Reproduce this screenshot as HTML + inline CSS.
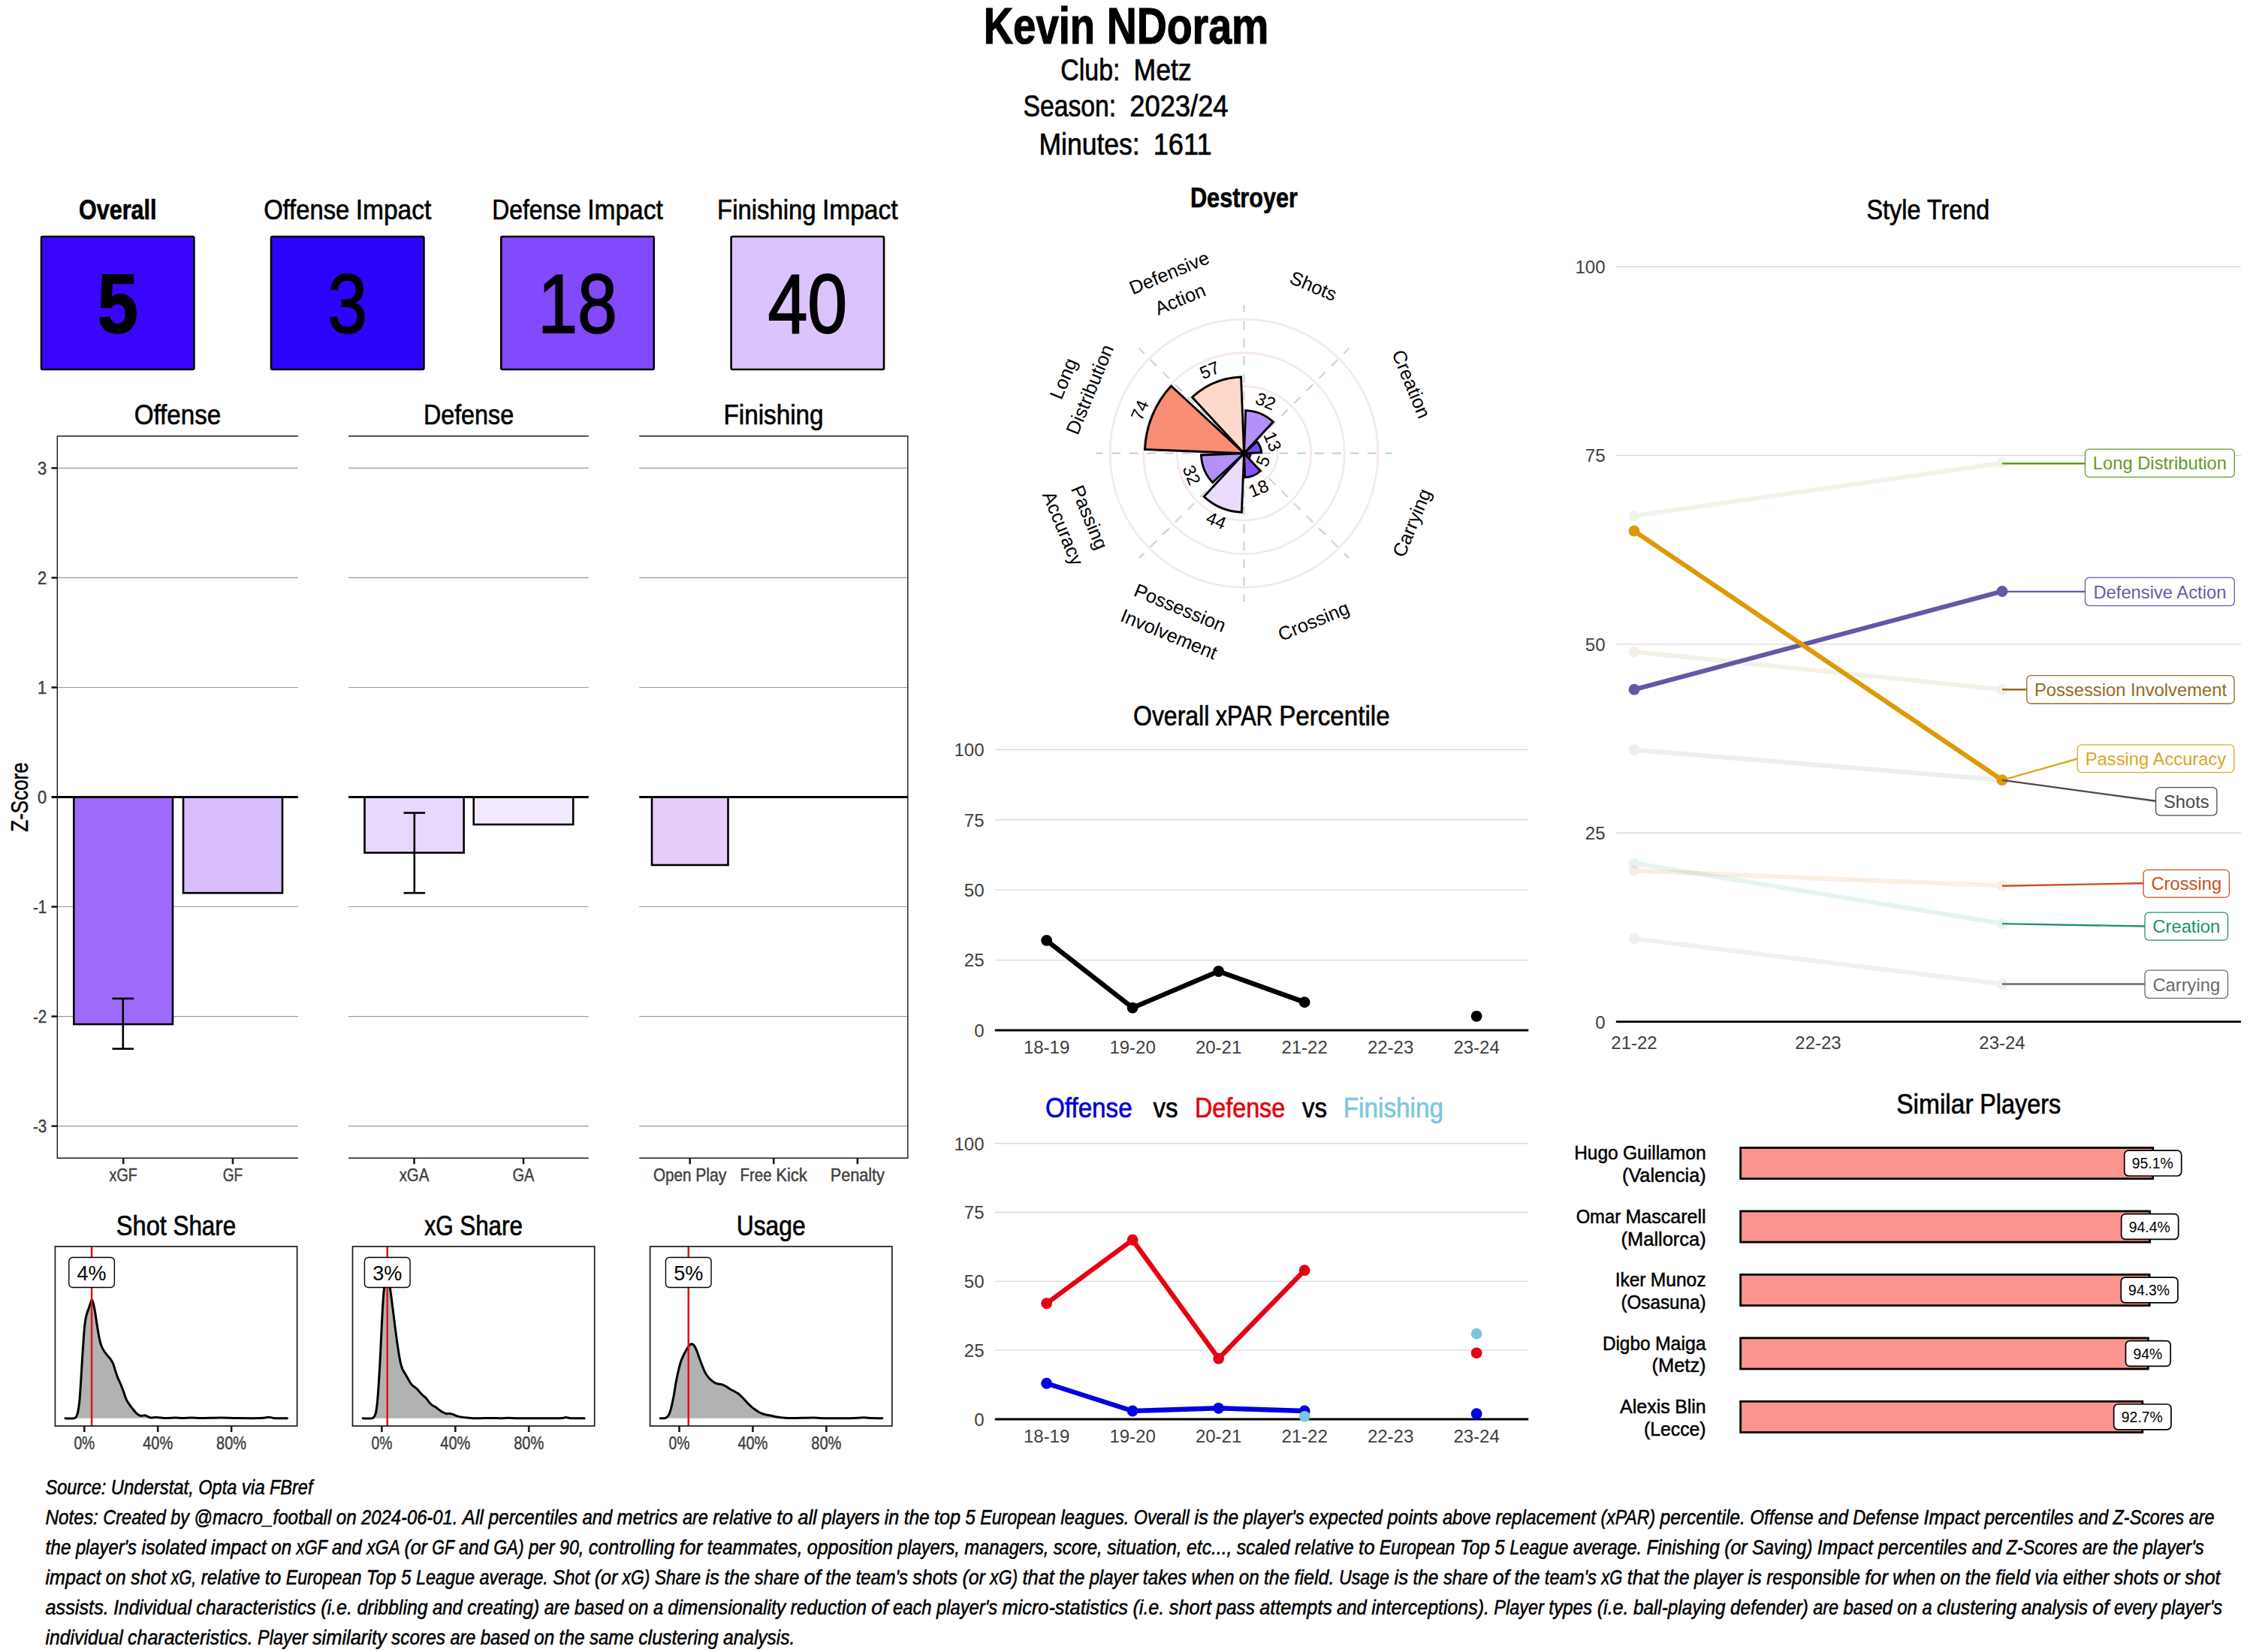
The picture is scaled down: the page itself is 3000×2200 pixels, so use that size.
<!DOCTYPE html>
<html lang="en"><head><meta charset="utf-8"><title>Kevin NDoram</title>
<style>
html,body{margin:0;padding:0;background:#fff}
svg{display:block;font-family:"Liberation Sans", sans-serif}
text{white-space:pre}
</style></head><body>
<svg width="3000" height="2200" viewBox="0 0 3000 2200">
<rect width="3000" height="2200" fill="#fff"/>
<text y="57.80" font-size="67.97" fill="#000" stroke="#000" stroke-width="1.21" font-weight="bold"><tspan x="1309.71" textLength="148.43" lengthAdjust="spacingAndGlyphs">Kevin</tspan> <tspan x="1473.66" textLength="215.63" lengthAdjust="spacingAndGlyphs">NDoram</tspan></text>
<text y="106.50" font-size="39.79" fill="#000" stroke="#000" stroke-width="0.71"><tspan x="1412.34" textLength="79.05" lengthAdjust="spacingAndGlyphs">Club:</tspan> <tspan x="1509.48" textLength="77.18" lengthAdjust="spacingAndGlyphs">Metz</tspan></text>
<text y="154.70" font-size="39.79" fill="#000" stroke="#000" stroke-width="0.71"><tspan x="1362.40" textLength="123.80" lengthAdjust="spacingAndGlyphs">Season:</tspan> <tspan x="1504.28" textLength="131.32" lengthAdjust="spacingAndGlyphs">2023/24</tspan></text>
<text y="205.60" font-size="39.79" fill="#000" stroke="#000" stroke-width="0.71"><tspan x="1383.45" textLength="134.23" lengthAdjust="spacingAndGlyphs">Minutes:</tspan> <tspan x="1535.75" textLength="77.80" lengthAdjust="spacingAndGlyphs">1611</tspan></text>
<text y="291.60" font-size="37.17" fill="#000" stroke="#000" stroke-width="0.66" font-weight="bold"><tspan x="104.89" textLength="103.62" lengthAdjust="spacingAndGlyphs">Overall</tspan></text>
<rect x="55.00" y="315.00" width="203.40" height="177.00" fill="#3A05FB" stroke="#000" stroke-width="2.6" rx="2"/>
<text y="443.00" font-size="110.53" fill="#000" stroke="#000" stroke-width="1.93" font-weight="bold"><tspan x="129.66" textLength="54.07" lengthAdjust="spacingAndGlyphs">5</tspan></text>
<text y="291.60" font-size="37.17" fill="#000" stroke="#000" stroke-width="0.66"><tspan x="351.15" textLength="114.08" lengthAdjust="spacingAndGlyphs">Offense</tspan> <tspan x="473.68" textLength="100.57" lengthAdjust="spacingAndGlyphs">Impact</tspan></text>
<rect x="361.00" y="315.00" width="203.40" height="177.00" fill="#2D04FB" stroke="#000" stroke-width="2.6" rx="2"/>
<text y="443.00" font-size="110.53" fill="#000" stroke="#000" stroke-width="1.93"><tspan x="436.29" textLength="52.82" lengthAdjust="spacingAndGlyphs">3</tspan></text>
<text y="291.60" font-size="37.17" fill="#000" stroke="#000" stroke-width="0.66"><tspan x="655.20" textLength="118.58" lengthAdjust="spacingAndGlyphs">Defense</tspan> <tspan x="782.23" textLength="100.57" lengthAdjust="spacingAndGlyphs">Impact</tspan></text>
<rect x="667.30" y="315.00" width="203.40" height="177.00" fill="#8349FC" stroke="#000" stroke-width="2.6" rx="2"/>
<text y="443.00" font-size="110.53" fill="#000" stroke="#000" stroke-width="1.93"><tspan x="716.18" textLength="105.64" lengthAdjust="spacingAndGlyphs">18</tspan></text>
<text y="291.60" font-size="37.17" fill="#000" stroke="#000" stroke-width="0.66"><tspan x="955.10" textLength="131.39" lengthAdjust="spacingAndGlyphs">Finishing</tspan> <tspan x="1094.93" textLength="100.57" lengthAdjust="spacingAndGlyphs">Impact</tspan></text>
<rect x="973.60" y="315.00" width="203.40" height="177.00" fill="#DBC4FD" stroke="#000" stroke-width="2.6" rx="2"/>
<text y="443.00" font-size="110.53" fill="#000" stroke="#000" stroke-width="1.93"><tspan x="1022.48" textLength="105.64" lengthAdjust="spacingAndGlyphs">40</tspan></text>
<line x1="76.20" y1="1499.65" x2="396.80" y2="1499.65" stroke="#9A9A9A" stroke-width="1.1"/>
<line x1="76.20" y1="1353.60" x2="396.80" y2="1353.60" stroke="#9A9A9A" stroke-width="1.1"/>
<line x1="76.20" y1="1207.55" x2="396.80" y2="1207.55" stroke="#9A9A9A" stroke-width="1.1"/>
<line x1="76.20" y1="915.45" x2="396.80" y2="915.45" stroke="#9A9A9A" stroke-width="1.1"/>
<line x1="76.20" y1="769.40" x2="396.80" y2="769.40" stroke="#9A9A9A" stroke-width="1.1"/>
<line x1="76.20" y1="623.35" x2="396.80" y2="623.35" stroke="#9A9A9A" stroke-width="1.1"/>
<line x1="464.00" y1="1499.65" x2="783.70" y2="1499.65" stroke="#9A9A9A" stroke-width="1.1"/>
<line x1="464.00" y1="1353.60" x2="783.70" y2="1353.60" stroke="#9A9A9A" stroke-width="1.1"/>
<line x1="464.00" y1="1207.55" x2="783.70" y2="1207.55" stroke="#9A9A9A" stroke-width="1.1"/>
<line x1="464.00" y1="915.45" x2="783.70" y2="915.45" stroke="#9A9A9A" stroke-width="1.1"/>
<line x1="464.00" y1="769.40" x2="783.70" y2="769.40" stroke="#9A9A9A" stroke-width="1.1"/>
<line x1="464.00" y1="623.35" x2="783.70" y2="623.35" stroke="#9A9A9A" stroke-width="1.1"/>
<line x1="851.20" y1="1499.65" x2="1208.80" y2="1499.65" stroke="#9A9A9A" stroke-width="1.1"/>
<line x1="851.20" y1="1353.60" x2="1208.80" y2="1353.60" stroke="#9A9A9A" stroke-width="1.1"/>
<line x1="851.20" y1="1207.55" x2="1208.80" y2="1207.55" stroke="#9A9A9A" stroke-width="1.1"/>
<line x1="851.20" y1="915.45" x2="1208.80" y2="915.45" stroke="#9A9A9A" stroke-width="1.1"/>
<line x1="851.20" y1="769.40" x2="1208.80" y2="769.40" stroke="#9A9A9A" stroke-width="1.1"/>
<line x1="851.20" y1="623.35" x2="1208.80" y2="623.35" stroke="#9A9A9A" stroke-width="1.1"/>
<line x1="76.20" y1="580.70" x2="396.80" y2="580.70" stroke="#1a1a1a" stroke-width="1.4"/>
<line x1="76.20" y1="1542.30" x2="396.80" y2="1542.30" stroke="#1a1a1a" stroke-width="1.4"/>
<line x1="464.00" y1="580.70" x2="783.70" y2="580.70" stroke="#1a1a1a" stroke-width="1.4"/>
<line x1="464.00" y1="1542.30" x2="783.70" y2="1542.30" stroke="#1a1a1a" stroke-width="1.4"/>
<line x1="851.20" y1="580.70" x2="1208.80" y2="580.70" stroke="#1a1a1a" stroke-width="1.4"/>
<line x1="851.20" y1="1542.30" x2="1208.80" y2="1542.30" stroke="#1a1a1a" stroke-width="1.4"/>
<line x1="76.30" y1="580.00" x2="76.30" y2="1543.00" stroke="#1a1a1a" stroke-width="1.4"/>
<line x1="1208.80" y1="580.00" x2="1208.80" y2="1543.00" stroke="#1a1a1a" stroke-width="1.4"/>
<line x1="68.50" y1="1499.65" x2="76.20" y2="1499.65" stroke="#1a1a1a" stroke-width="2.6"/>
<text y="1507.85" font-size="23.59" fill="#404040" stroke="#404040" stroke-width="0.44"><tspan x="43.98" textLength="18.32" lengthAdjust="spacingAndGlyphs">-3</tspan></text>
<line x1="68.50" y1="1353.60" x2="76.20" y2="1353.60" stroke="#1a1a1a" stroke-width="2.6"/>
<text y="1361.80" font-size="23.59" fill="#404040" stroke="#404040" stroke-width="0.44"><tspan x="43.98" textLength="18.32" lengthAdjust="spacingAndGlyphs">-2</tspan></text>
<line x1="68.50" y1="1207.55" x2="76.20" y2="1207.55" stroke="#1a1a1a" stroke-width="2.6"/>
<text y="1215.75" font-size="23.59" fill="#404040" stroke="#404040" stroke-width="0.44"><tspan x="43.98" textLength="18.32" lengthAdjust="spacingAndGlyphs">-1</tspan></text>
<line x1="68.50" y1="1061.50" x2="76.20" y2="1061.50" stroke="#1a1a1a" stroke-width="2.6"/>
<text y="1069.70" font-size="23.59" fill="#404040" stroke="#404040" stroke-width="0.44"><tspan x="50.11" textLength="12.19" lengthAdjust="spacingAndGlyphs">0</tspan></text>
<line x1="68.50" y1="915.45" x2="76.20" y2="915.45" stroke="#1a1a1a" stroke-width="2.6"/>
<text y="923.65" font-size="23.59" fill="#404040" stroke="#404040" stroke-width="0.44"><tspan x="50.11" textLength="12.19" lengthAdjust="spacingAndGlyphs">1</tspan></text>
<line x1="68.50" y1="769.40" x2="76.20" y2="769.40" stroke="#1a1a1a" stroke-width="2.6"/>
<text y="777.60" font-size="23.59" fill="#404040" stroke="#404040" stroke-width="0.44"><tspan x="50.11" textLength="12.19" lengthAdjust="spacingAndGlyphs">2</tspan></text>
<line x1="68.50" y1="623.35" x2="76.20" y2="623.35" stroke="#1a1a1a" stroke-width="2.6"/>
<text y="631.55" font-size="23.59" fill="#404040" stroke="#404040" stroke-width="0.44"><tspan x="50.11" textLength="12.19" lengthAdjust="spacingAndGlyphs">3</tspan></text>
<rect x="98.30" y="1061.50" width="131.70" height="302.50" fill="#9E6BFB" stroke="#000" stroke-width="2.6"/>
<rect x="244.00" y="1061.50" width="132.00" height="127.70" fill="#D8BEFC" stroke="#000" stroke-width="2.6"/>
<rect x="485.50" y="1061.50" width="132.10" height="74.10" fill="#E8D8FD" stroke="#000" stroke-width="2.6"/>
<rect x="630.70" y="1061.50" width="132.50" height="36.50" fill="#F2E9FE" stroke="#000" stroke-width="2.6"/>
<rect x="868.00" y="1061.50" width="101.50" height="90.50" fill="#E6CDFC" stroke="#000" stroke-width="2.6"/>
<line x1="978.50" y1="1061.50" x2="1080.60" y2="1061.50" stroke="#000" stroke-width="3"/>
<line x1="1090.30" y1="1061.50" x2="1192.30" y2="1061.50" stroke="#000" stroke-width="3"/>
<line x1="76.20" y1="1061.50" x2="396.80" y2="1061.50" stroke="#000" stroke-width="3"/>
<line x1="464.00" y1="1061.50" x2="783.70" y2="1061.50" stroke="#000" stroke-width="3"/>
<line x1="851.20" y1="1061.50" x2="1208.80" y2="1061.50" stroke="#000" stroke-width="3"/>
<line x1="69.00" y1="1061.50" x2="77.00" y2="1061.50" stroke="#000" stroke-width="3"/>
<line x1="163.80" y1="1329.80" x2="163.80" y2="1396.70" stroke="#000" stroke-width="2.6"/>
<line x1="149.50" y1="1329.80" x2="178.10" y2="1329.80" stroke="#000" stroke-width="2.6"/>
<line x1="149.50" y1="1396.70" x2="178.10" y2="1396.70" stroke="#000" stroke-width="2.6"/>
<line x1="551.80" y1="1082.50" x2="551.80" y2="1189.20" stroke="#000" stroke-width="2.6"/>
<line x1="537.50" y1="1082.50" x2="566.10" y2="1082.50" stroke="#000" stroke-width="2.6"/>
<line x1="537.50" y1="1189.20" x2="566.10" y2="1189.20" stroke="#000" stroke-width="2.6"/>
<line x1="164.20" y1="1542.30" x2="164.20" y2="1550.30" stroke="#1a1a1a" stroke-width="2.6"/>
<text y="1573.30" font-size="23.59" fill="#404040" stroke="#404040" stroke-width="0.44"><tspan x="145.54" textLength="37.32" lengthAdjust="spacingAndGlyphs">xGF</tspan></text>
<line x1="310.00" y1="1542.30" x2="310.00" y2="1550.30" stroke="#1a1a1a" stroke-width="2.6"/>
<text y="1573.30" font-size="23.59" fill="#404040" stroke="#404040" stroke-width="0.44"><tspan x="296.76" textLength="26.47" lengthAdjust="spacingAndGlyphs">GF</tspan></text>
<line x1="551.50" y1="1542.30" x2="551.50" y2="1550.30" stroke="#1a1a1a" stroke-width="2.6"/>
<text y="1573.30" font-size="23.59" fill="#404040" stroke="#404040" stroke-width="0.44"><tspan x="531.66" textLength="39.68" lengthAdjust="spacingAndGlyphs">xGA</tspan></text>
<line x1="697.00" y1="1542.30" x2="697.00" y2="1550.30" stroke="#1a1a1a" stroke-width="2.6"/>
<text y="1573.30" font-size="23.59" fill="#404040" stroke="#404040" stroke-width="0.44"><tspan x="682.58" textLength="28.84" lengthAdjust="spacingAndGlyphs">GA</tspan></text>
<line x1="918.70" y1="1542.30" x2="918.70" y2="1550.30" stroke="#1a1a1a" stroke-width="2.6"/>
<text y="1573.30" font-size="23.59" fill="#404040" stroke="#404040" stroke-width="0.44"><tspan x="869.93" textLength="50.57" lengthAdjust="spacingAndGlyphs">Open</tspan> <tspan x="926.17" textLength="41.30" lengthAdjust="spacingAndGlyphs">Play</tspan></text>
<line x1="1030.20" y1="1542.30" x2="1030.20" y2="1550.30" stroke="#1a1a1a" stroke-width="2.6"/>
<text y="1573.30" font-size="23.59" fill="#404040" stroke="#404040" stroke-width="0.44"><tspan x="985.52" textLength="42.02" lengthAdjust="spacingAndGlyphs">Free</tspan> <tspan x="1033.20" textLength="41.68" lengthAdjust="spacingAndGlyphs">Kick</tspan></text>
<line x1="1141.80" y1="1542.30" x2="1141.80" y2="1550.30" stroke="#1a1a1a" stroke-width="2.6"/>
<text y="1573.30" font-size="23.59" fill="#404040" stroke="#404040" stroke-width="0.44"><tspan x="1105.71" textLength="72.17" lengthAdjust="spacingAndGlyphs">Penalty</tspan></text>
<text y="565.00" font-size="37.67" fill="#000" stroke="#000" stroke-width="0.67"><tspan x="178.68" textLength="115.63" lengthAdjust="spacingAndGlyphs">Offense</tspan></text>
<text y="565.00" font-size="37.67" fill="#000" stroke="#000" stroke-width="0.67"><tspan x="563.91" textLength="120.19" lengthAdjust="spacingAndGlyphs">Defense</tspan></text>
<text y="565.00" font-size="37.67" fill="#000" stroke="#000" stroke-width="0.67"><tspan x="963.41" textLength="133.17" lengthAdjust="spacingAndGlyphs">Finishing</tspan></text>
<text y="1061.50" font-size="30.60" fill="#000" stroke="#000" stroke-width="0.55" transform="rotate(-90.00 37.20 1061.50)"><tspan x="-8.97" textLength="92.34" lengthAdjust="spacingAndGlyphs">Z-Score</tspan></text>
<text y="1644.60" font-size="37.67" fill="#000" stroke="#000" stroke-width="0.67"><tspan x="154.80" textLength="67.11" lengthAdjust="spacingAndGlyphs">Shot</tspan> <tspan x="230.47" textLength="83.72" lengthAdjust="spacingAndGlyphs">Share</tspan></text>
<path d="M86.99,1888.87C88.88,1888.87 95.91,1889.21 98.32,1888.87C100.74,1888.53 100.55,1888.34 101.47,1886.82C102.39,1885.30 103.10,1883.28 103.83,1879.74C104.57,1876.20 105.22,1872.40 105.88,1865.58C106.53,1858.76 107.14,1848.53 107.77,1838.83C108.39,1829.12 109.08,1816.54 109.65,1807.36C110.23,1798.18 110.70,1790.83 111.23,1783.75C111.75,1776.67 112.20,1770.12 112.80,1764.87C113.40,1759.62 113.98,1755.95 114.85,1752.28C115.71,1748.61 117.08,1745.59 117.99,1742.84C118.91,1740.09 119.65,1737.73 120.35,1735.76C121.06,1733.79 121.59,1731.04 122.24,1731.04C122.90,1731.04 123.55,1733.01 124.29,1735.76C125.02,1738.51 125.86,1742.97 126.65,1747.56C127.44,1752.15 128.22,1758.31 129.01,1763.30C129.80,1768.28 130.58,1773.26 131.37,1777.46C132.16,1781.65 132.81,1785.33 133.73,1788.47C134.65,1791.62 135.57,1793.85 136.88,1796.34C138.19,1798.83 140.02,1801.32 141.60,1803.42C143.17,1805.52 144.88,1806.96 146.32,1808.93C147.76,1810.90 149.07,1812.60 150.25,1815.22C151.43,1817.85 152.35,1821.52 153.40,1824.67C154.45,1827.81 155.37,1831.09 156.55,1834.11C157.73,1837.12 159.17,1839.61 160.48,1842.76C161.79,1845.91 163.10,1849.45 164.41,1852.99C165.73,1856.53 167.04,1861.12 168.35,1864.00C169.66,1866.89 170.84,1868.20 172.28,1870.30C173.72,1872.40 175.43,1874.63 177.00,1876.59C178.58,1878.56 180.28,1880.71 181.72,1882.10C183.17,1883.49 184.48,1884.38 185.66,1884.93C186.84,1885.48 187.62,1885.43 188.80,1885.41C189.98,1885.38 191.56,1884.67 192.74,1884.78C193.92,1884.88 194.57,1885.51 195.89,1886.03C197.20,1886.56 198.51,1887.69 200.61,1887.92C202.70,1888.16 205.06,1887.35 208.47,1887.45C211.88,1887.56 216.87,1888.47 221.06,1888.55C225.26,1888.63 229.98,1887.92 233.65,1887.92C237.32,1887.92 239.42,1888.55 243.09,1888.55C246.76,1888.55 251.48,1887.92 255.68,1887.92C259.88,1887.92 261.97,1888.53 268.27,1888.55C274.56,1888.58 285.58,1888.08 293.45,1888.08C301.31,1888.08 306.56,1888.47 315.48,1888.55C324.39,1888.63 339.87,1888.76 346.95,1888.55C354.03,1888.34 354.82,1887.27 357.96,1887.29C361.11,1887.32 361.77,1888.47 365.83,1888.71C369.90,1888.95 379.60,1888.71 382.35,1888.71L382.35,1888.87L86.99,1888.87Z" fill="#B2B2B2"/>
<path d="M86.99,1888.87C88.88,1888.87 95.91,1889.21 98.32,1888.87C100.74,1888.53 100.55,1888.34 101.47,1886.82C102.39,1885.30 103.10,1883.28 103.83,1879.74C104.57,1876.20 105.22,1872.40 105.88,1865.58C106.53,1858.76 107.14,1848.53 107.77,1838.83C108.39,1829.12 109.08,1816.54 109.65,1807.36C110.23,1798.18 110.70,1790.83 111.23,1783.75C111.75,1776.67 112.20,1770.12 112.80,1764.87C113.40,1759.62 113.98,1755.95 114.85,1752.28C115.71,1748.61 117.08,1745.59 117.99,1742.84C118.91,1740.09 119.65,1737.73 120.35,1735.76C121.06,1733.79 121.59,1731.04 122.24,1731.04C122.90,1731.04 123.55,1733.01 124.29,1735.76C125.02,1738.51 125.86,1742.97 126.65,1747.56C127.44,1752.15 128.22,1758.31 129.01,1763.30C129.80,1768.28 130.58,1773.26 131.37,1777.46C132.16,1781.65 132.81,1785.33 133.73,1788.47C134.65,1791.62 135.57,1793.85 136.88,1796.34C138.19,1798.83 140.02,1801.32 141.60,1803.42C143.17,1805.52 144.88,1806.96 146.32,1808.93C147.76,1810.90 149.07,1812.60 150.25,1815.22C151.43,1817.85 152.35,1821.52 153.40,1824.67C154.45,1827.81 155.37,1831.09 156.55,1834.11C157.73,1837.12 159.17,1839.61 160.48,1842.76C161.79,1845.91 163.10,1849.45 164.41,1852.99C165.73,1856.53 167.04,1861.12 168.35,1864.00C169.66,1866.89 170.84,1868.20 172.28,1870.30C173.72,1872.40 175.43,1874.63 177.00,1876.59C178.58,1878.56 180.28,1880.71 181.72,1882.10C183.17,1883.49 184.48,1884.38 185.66,1884.93C186.84,1885.48 187.62,1885.43 188.80,1885.41C189.98,1885.38 191.56,1884.67 192.74,1884.78C193.92,1884.88 194.57,1885.51 195.89,1886.03C197.20,1886.56 198.51,1887.69 200.61,1887.92C202.70,1888.16 205.06,1887.35 208.47,1887.45C211.88,1887.56 216.87,1888.47 221.06,1888.55C225.26,1888.63 229.98,1887.92 233.65,1887.92C237.32,1887.92 239.42,1888.55 243.09,1888.55C246.76,1888.55 251.48,1887.92 255.68,1887.92C259.88,1887.92 261.97,1888.53 268.27,1888.55C274.56,1888.58 285.58,1888.08 293.45,1888.08C301.31,1888.08 306.56,1888.47 315.48,1888.55C324.39,1888.63 339.87,1888.76 346.95,1888.55C354.03,1888.34 354.82,1887.27 357.96,1887.29C361.11,1887.32 361.77,1888.47 365.83,1888.71C369.90,1888.95 379.60,1888.71 382.35,1888.71" fill="none" stroke="#000" stroke-width="3.0" stroke-linejoin="round" stroke-linecap="round"/>
<line x1="122.09" y1="1660.00" x2="122.09" y2="1899.00" stroke="#E3111C" stroke-width="2.5"/>
<rect x="73.40" y="1660.00" width="322.20" height="239.00" fill="none" stroke="#1a1a1a" stroke-width="1.7"/>
<line x1="112.30" y1="1899.00" x2="112.30" y2="1907.00" stroke="#1a1a1a" stroke-width="2.6"/>
<text y="1930.30" font-size="23.59" fill="#404040" stroke="#404040" stroke-width="0.44"><tspan x="98.39" textLength="27.82" lengthAdjust="spacingAndGlyphs">0%</tspan></text>
<line x1="210.20" y1="1899.00" x2="210.20" y2="1907.00" stroke="#1a1a1a" stroke-width="2.6"/>
<text y="1930.30" font-size="23.59" fill="#404040" stroke="#404040" stroke-width="0.44"><tspan x="190.19" textLength="40.02" lengthAdjust="spacingAndGlyphs">40%</tspan></text>
<line x1="308.10" y1="1899.00" x2="308.10" y2="1907.00" stroke="#1a1a1a" stroke-width="2.6"/>
<text y="1930.30" font-size="23.59" fill="#404040" stroke="#404040" stroke-width="0.44"><tspan x="288.09" textLength="40.02" lengthAdjust="spacingAndGlyphs">80%</tspan></text>
<rect x="91.79" y="1674.50" width="60.60" height="40.00" fill="#fff" stroke="#000" stroke-width="1.4" rx="5"/>
<text x="122.09" y="1705.00" font-size="27.00" text-anchor="middle" fill="#000">4%</text>
<text y="1644.60" font-size="37.67" fill="#000" stroke="#000" stroke-width="0.67"><tspan x="565.25" textLength="38.41" lengthAdjust="spacingAndGlyphs">xG</tspan> <tspan x="612.22" textLength="83.72" lengthAdjust="spacingAndGlyphs">Share</tspan></text>
<path d="M483.10,1888.87C485.06,1888.87 492.41,1889.21 494.90,1888.87C497.39,1888.53 497.13,1888.08 498.04,1886.82C498.96,1885.56 499.67,1884.59 500.41,1881.31C501.14,1878.04 501.80,1873.71 502.45,1867.15C503.11,1860.60 503.71,1851.68 504.34,1841.97C504.97,1832.27 505.65,1819.94 506.23,1808.93C506.80,1797.92 507.28,1786.64 507.80,1775.89C508.33,1765.13 508.85,1753.59 509.37,1744.41C509.90,1735.23 510.34,1726.84 510.95,1720.81C511.55,1714.78 512.26,1710.98 512.99,1708.22C513.73,1705.47 514.57,1704.29 515.35,1704.29C516.14,1704.29 517.06,1706.52 517.71,1708.22C518.37,1709.93 518.63,1710.58 519.29,1714.52C519.94,1718.45 520.86,1725.79 521.65,1731.83C522.44,1737.86 523.22,1744.41 524.01,1750.71C524.80,1757.00 525.58,1763.56 526.37,1769.59C527.16,1775.62 527.94,1781.39 528.73,1786.90C529.52,1792.41 530.30,1797.92 531.09,1802.64C531.88,1807.36 532.66,1811.81 533.45,1815.22C534.24,1818.63 534.89,1820.86 535.81,1823.09C536.73,1825.32 537.91,1826.76 538.96,1828.60C540.01,1830.44 541.06,1832.27 542.10,1834.11C543.15,1835.94 544.20,1837.91 545.25,1839.61C546.30,1841.32 547.35,1843.15 548.40,1844.34C549.45,1845.52 550.37,1845.78 551.55,1846.70C552.73,1847.61 554.17,1848.53 555.48,1849.84C556.79,1851.15 558.10,1853.12 559.41,1854.56C560.73,1856.01 562.04,1857.32 563.35,1858.50C564.66,1859.68 565.97,1860.20 567.28,1861.64C568.59,1863.09 569.90,1865.58 571.22,1867.15C572.53,1868.73 573.71,1869.98 575.15,1871.09C576.59,1872.19 578.30,1872.71 579.87,1873.76C581.44,1874.81 583.02,1876.25 584.59,1877.38C586.16,1878.51 587.74,1879.66 589.31,1880.53C590.89,1881.39 592.46,1882.23 594.03,1882.57C595.61,1882.91 597.18,1882.39 598.75,1882.57C600.33,1882.76 601.90,1883.18 603.47,1883.67C605.05,1884.17 606.36,1884.99 608.19,1885.56C610.03,1886.14 612.13,1886.72 614.49,1887.14C616.85,1887.56 618.95,1887.79 622.36,1888.08C625.77,1888.37 629.70,1888.81 634.94,1888.87C640.19,1888.92 648.58,1888.42 653.83,1888.39C659.07,1888.37 662.48,1888.74 666.42,1888.71C670.35,1888.68 672.97,1888.24 677.43,1888.24C681.89,1888.24 681.89,1888.63 693.17,1888.71C704.44,1888.79 735.13,1888.92 745.09,1888.71C755.06,1888.50 750.34,1887.45 752.96,1887.45C755.58,1887.45 756.63,1888.50 760.83,1888.71C765.03,1888.92 775.25,1888.71 778.14,1888.71L778.14,1888.87L483.10,1888.87Z" fill="#B2B2B2"/>
<path d="M483.10,1888.87C485.06,1888.87 492.41,1889.21 494.90,1888.87C497.39,1888.53 497.13,1888.08 498.04,1886.82C498.96,1885.56 499.67,1884.59 500.41,1881.31C501.14,1878.04 501.80,1873.71 502.45,1867.15C503.11,1860.60 503.71,1851.68 504.34,1841.97C504.97,1832.27 505.65,1819.94 506.23,1808.93C506.80,1797.92 507.28,1786.64 507.80,1775.89C508.33,1765.13 508.85,1753.59 509.37,1744.41C509.90,1735.23 510.34,1726.84 510.95,1720.81C511.55,1714.78 512.26,1710.98 512.99,1708.22C513.73,1705.47 514.57,1704.29 515.35,1704.29C516.14,1704.29 517.06,1706.52 517.71,1708.22C518.37,1709.93 518.63,1710.58 519.29,1714.52C519.94,1718.45 520.86,1725.79 521.65,1731.83C522.44,1737.86 523.22,1744.41 524.01,1750.71C524.80,1757.00 525.58,1763.56 526.37,1769.59C527.16,1775.62 527.94,1781.39 528.73,1786.90C529.52,1792.41 530.30,1797.92 531.09,1802.64C531.88,1807.36 532.66,1811.81 533.45,1815.22C534.24,1818.63 534.89,1820.86 535.81,1823.09C536.73,1825.32 537.91,1826.76 538.96,1828.60C540.01,1830.44 541.06,1832.27 542.10,1834.11C543.15,1835.94 544.20,1837.91 545.25,1839.61C546.30,1841.32 547.35,1843.15 548.40,1844.34C549.45,1845.52 550.37,1845.78 551.55,1846.70C552.73,1847.61 554.17,1848.53 555.48,1849.84C556.79,1851.15 558.10,1853.12 559.41,1854.56C560.73,1856.01 562.04,1857.32 563.35,1858.50C564.66,1859.68 565.97,1860.20 567.28,1861.64C568.59,1863.09 569.90,1865.58 571.22,1867.15C572.53,1868.73 573.71,1869.98 575.15,1871.09C576.59,1872.19 578.30,1872.71 579.87,1873.76C581.44,1874.81 583.02,1876.25 584.59,1877.38C586.16,1878.51 587.74,1879.66 589.31,1880.53C590.89,1881.39 592.46,1882.23 594.03,1882.57C595.61,1882.91 597.18,1882.39 598.75,1882.57C600.33,1882.76 601.90,1883.18 603.47,1883.67C605.05,1884.17 606.36,1884.99 608.19,1885.56C610.03,1886.14 612.13,1886.72 614.49,1887.14C616.85,1887.56 618.95,1887.79 622.36,1888.08C625.77,1888.37 629.70,1888.81 634.94,1888.87C640.19,1888.92 648.58,1888.42 653.83,1888.39C659.07,1888.37 662.48,1888.74 666.42,1888.71C670.35,1888.68 672.97,1888.24 677.43,1888.24C681.89,1888.24 681.89,1888.63 693.17,1888.71C704.44,1888.79 735.13,1888.92 745.09,1888.71C755.06,1888.50 750.34,1887.45 752.96,1887.45C755.58,1887.45 756.63,1888.50 760.83,1888.71C765.03,1888.92 775.25,1888.71 778.14,1888.71" fill="none" stroke="#000" stroke-width="3.0" stroke-linejoin="round" stroke-linecap="round"/>
<line x1="515.74" y1="1660.00" x2="515.74" y2="1899.00" stroke="#E3111C" stroke-width="2.5"/>
<rect x="469.50" y="1660.00" width="322.20" height="239.00" fill="none" stroke="#1a1a1a" stroke-width="1.7"/>
<line x1="508.40" y1="1899.00" x2="508.40" y2="1907.00" stroke="#1a1a1a" stroke-width="2.6"/>
<text y="1930.30" font-size="23.59" fill="#404040" stroke="#404040" stroke-width="0.44"><tspan x="494.49" textLength="27.82" lengthAdjust="spacingAndGlyphs">0%</tspan></text>
<line x1="606.30" y1="1899.00" x2="606.30" y2="1907.00" stroke="#1a1a1a" stroke-width="2.6"/>
<text y="1930.30" font-size="23.59" fill="#404040" stroke="#404040" stroke-width="0.44"><tspan x="586.29" textLength="40.02" lengthAdjust="spacingAndGlyphs">40%</tspan></text>
<line x1="704.20" y1="1899.00" x2="704.20" y2="1907.00" stroke="#1a1a1a" stroke-width="2.6"/>
<text y="1930.30" font-size="23.59" fill="#404040" stroke="#404040" stroke-width="0.44"><tspan x="684.19" textLength="40.02" lengthAdjust="spacingAndGlyphs">80%</tspan></text>
<rect x="485.44" y="1674.50" width="60.60" height="40.00" fill="#fff" stroke="#000" stroke-width="1.4" rx="5"/>
<text x="515.74" y="1705.00" font-size="27.00" text-anchor="middle" fill="#000">3%</text>
<text y="1644.60" font-size="37.67" fill="#000" stroke="#000" stroke-width="0.67"><tspan x="980.85" textLength="91.70" lengthAdjust="spacingAndGlyphs">Usage</tspan></text>
<path d="M879.18,1888.73C880.34,1888.66 884.26,1889.02 886.15,1888.30C888.04,1887.57 889.24,1886.66 890.51,1884.38C891.78,1882.09 892.69,1878.75 893.78,1874.57C894.87,1870.39 895.96,1865.13 897.05,1859.32C898.13,1853.50 899.22,1845.51 900.31,1839.70C901.40,1833.89 902.49,1828.99 903.58,1824.45C904.67,1819.91 905.58,1816.10 906.85,1812.46C908.12,1808.83 909.76,1805.56 911.21,1802.66C912.66,1799.75 914.30,1797.03 915.57,1795.03C916.84,1793.03 917.75,1791.51 918.84,1790.67C919.93,1789.84 921.09,1789.66 922.11,1790.02C923.12,1790.38 923.96,1791.29 924.94,1792.85C925.92,1794.41 926.90,1796.67 927.99,1799.39C929.08,1802.11 930.28,1805.93 931.48,1809.20C932.67,1812.46 933.94,1815.91 935.18,1819.00C936.41,1822.09 937.61,1825.29 938.88,1827.72C940.16,1830.15 941.43,1831.86 942.81,1833.60C944.19,1835.35 945.53,1836.80 947.16,1838.18C948.80,1839.56 950.80,1841.05 952.61,1841.88C954.43,1842.72 956.43,1842.83 958.06,1843.19C959.69,1843.55 960.97,1843.55 962.42,1844.06C963.87,1844.57 965.14,1845.26 966.78,1846.24C968.41,1847.22 970.41,1848.86 972.22,1849.95C974.04,1851.04 975.86,1851.76 977.67,1852.78C979.49,1853.80 981.30,1854.67 983.12,1856.05C984.94,1857.43 986.75,1859.24 988.57,1861.06C990.38,1862.87 992.20,1865.05 994.02,1866.94C995.83,1868.83 997.65,1870.76 999.46,1872.39C1001.28,1874.02 1003.10,1875.40 1004.91,1876.75C1006.73,1878.09 1008.36,1879.36 1010.36,1880.45C1012.36,1881.54 1014.35,1882.52 1016.90,1883.29C1019.44,1884.05 1022.71,1884.41 1025.61,1885.03C1028.52,1885.65 1031.06,1886.45 1034.33,1886.99C1037.60,1887.54 1041.59,1888.04 1045.23,1888.30C1048.86,1888.55 1049.58,1888.55 1056.12,1888.52C1062.66,1888.48 1077.19,1888.04 1084.45,1888.08C1091.71,1888.12 1091.71,1888.62 1099.70,1888.73C1107.69,1888.84 1124.04,1888.88 1132.39,1888.73C1140.74,1888.59 1145.10,1887.90 1149.82,1887.86C1154.54,1887.83 1156.54,1888.37 1160.72,1888.52C1164.90,1888.66 1172.52,1888.70 1174.88,1888.73L1174.88,1888.73L879.18,1888.73Z" fill="#B2B2B2"/>
<path d="M879.18,1888.73C880.34,1888.66 884.26,1889.02 886.15,1888.30C888.04,1887.57 889.24,1886.66 890.51,1884.38C891.78,1882.09 892.69,1878.75 893.78,1874.57C894.87,1870.39 895.96,1865.13 897.05,1859.32C898.13,1853.50 899.22,1845.51 900.31,1839.70C901.40,1833.89 902.49,1828.99 903.58,1824.45C904.67,1819.91 905.58,1816.10 906.85,1812.46C908.12,1808.83 909.76,1805.56 911.21,1802.66C912.66,1799.75 914.30,1797.03 915.57,1795.03C916.84,1793.03 917.75,1791.51 918.84,1790.67C919.93,1789.84 921.09,1789.66 922.11,1790.02C923.12,1790.38 923.96,1791.29 924.94,1792.85C925.92,1794.41 926.90,1796.67 927.99,1799.39C929.08,1802.11 930.28,1805.93 931.48,1809.20C932.67,1812.46 933.94,1815.91 935.18,1819.00C936.41,1822.09 937.61,1825.29 938.88,1827.72C940.16,1830.15 941.43,1831.86 942.81,1833.60C944.19,1835.35 945.53,1836.80 947.16,1838.18C948.80,1839.56 950.80,1841.05 952.61,1841.88C954.43,1842.72 956.43,1842.83 958.06,1843.19C959.69,1843.55 960.97,1843.55 962.42,1844.06C963.87,1844.57 965.14,1845.26 966.78,1846.24C968.41,1847.22 970.41,1848.86 972.22,1849.95C974.04,1851.04 975.86,1851.76 977.67,1852.78C979.49,1853.80 981.30,1854.67 983.12,1856.05C984.94,1857.43 986.75,1859.24 988.57,1861.06C990.38,1862.87 992.20,1865.05 994.02,1866.94C995.83,1868.83 997.65,1870.76 999.46,1872.39C1001.28,1874.02 1003.10,1875.40 1004.91,1876.75C1006.73,1878.09 1008.36,1879.36 1010.36,1880.45C1012.36,1881.54 1014.35,1882.52 1016.90,1883.29C1019.44,1884.05 1022.71,1884.41 1025.61,1885.03C1028.52,1885.65 1031.06,1886.45 1034.33,1886.99C1037.60,1887.54 1041.59,1888.04 1045.23,1888.30C1048.86,1888.55 1049.58,1888.55 1056.12,1888.52C1062.66,1888.48 1077.19,1888.04 1084.45,1888.08C1091.71,1888.12 1091.71,1888.62 1099.70,1888.73C1107.69,1888.84 1124.04,1888.88 1132.39,1888.73C1140.74,1888.59 1145.10,1887.90 1149.82,1887.86C1154.54,1887.83 1156.54,1888.37 1160.72,1888.52C1164.90,1888.66 1172.52,1888.70 1174.88,1888.73" fill="none" stroke="#000" stroke-width="3.0" stroke-linejoin="round" stroke-linecap="round"/>
<line x1="916.74" y1="1660.00" x2="916.74" y2="1899.00" stroke="#E3111C" stroke-width="2.5"/>
<rect x="865.60" y="1660.00" width="322.20" height="239.00" fill="none" stroke="#1a1a1a" stroke-width="1.7"/>
<line x1="904.50" y1="1899.00" x2="904.50" y2="1907.00" stroke="#1a1a1a" stroke-width="2.6"/>
<text y="1930.30" font-size="23.59" fill="#404040" stroke="#404040" stroke-width="0.44"><tspan x="890.59" textLength="27.82" lengthAdjust="spacingAndGlyphs">0%</tspan></text>
<line x1="1002.40" y1="1899.00" x2="1002.40" y2="1907.00" stroke="#1a1a1a" stroke-width="2.6"/>
<text y="1930.30" font-size="23.59" fill="#404040" stroke="#404040" stroke-width="0.44"><tspan x="982.39" textLength="40.02" lengthAdjust="spacingAndGlyphs">40%</tspan></text>
<line x1="1100.30" y1="1899.00" x2="1100.30" y2="1907.00" stroke="#1a1a1a" stroke-width="2.6"/>
<text y="1930.30" font-size="23.59" fill="#404040" stroke="#404040" stroke-width="0.44"><tspan x="1080.29" textLength="40.02" lengthAdjust="spacingAndGlyphs">80%</tspan></text>
<rect x="886.44" y="1674.50" width="60.60" height="40.00" fill="#fff" stroke="#000" stroke-width="1.4" rx="5"/>
<text x="916.74" y="1705.00" font-size="27.00" text-anchor="middle" fill="#000">5%</text>
<text y="276.40" font-size="37.47" fill="#000" stroke="#000" stroke-width="0.67" font-weight="bold"><tspan x="1584.96" textLength="143.08" lengthAdjust="spacingAndGlyphs">Destroyer</tspan></text>
<circle cx="1656.5" cy="603.7" r="44.62" fill="none" stroke="#F7E8E8" stroke-width="2.7"/>
<circle cx="1656.5" cy="603.7" r="89.25" fill="none" stroke="#F7E8E8" stroke-width="2.7"/>
<circle cx="1656.5" cy="603.7" r="133.88" fill="none" stroke="#F7E8E8" stroke-width="2.7"/>
<circle cx="1656.5" cy="603.7" r="178.50" fill="none" stroke="#F7E8E8" stroke-width="2.7"/>
<line x1="1656.50" y1="603.70" x2="1656.50" y2="406.20" stroke="#D2D2D2" stroke-width="2.2" stroke-dasharray="12 11.5"/>
<line x1="1656.50" y1="603.70" x2="1796.15" y2="464.05" stroke="#D2D2D2" stroke-width="2.2" stroke-dasharray="12 11.5"/>
<line x1="1656.50" y1="603.70" x2="1854.00" y2="603.70" stroke="#D2D2D2" stroke-width="2.2" stroke-dasharray="12 11.5"/>
<line x1="1656.50" y1="603.70" x2="1796.15" y2="743.35" stroke="#D2D2D2" stroke-width="2.2" stroke-dasharray="12 11.5"/>
<line x1="1656.50" y1="603.70" x2="1656.50" y2="801.20" stroke="#D2D2D2" stroke-width="2.2" stroke-dasharray="12 11.5"/>
<line x1="1656.50" y1="603.70" x2="1516.85" y2="743.35" stroke="#D2D2D2" stroke-width="2.2" stroke-dasharray="12 11.5"/>
<line x1="1656.50" y1="603.70" x2="1459.00" y2="603.70" stroke="#D2D2D2" stroke-width="2.2" stroke-dasharray="12 11.5"/>
<line x1="1656.50" y1="603.70" x2="1516.85" y2="464.05" stroke="#D2D2D2" stroke-width="2.2" stroke-dasharray="12 11.5"/>
<path d="M1656.50,603.70L1658.74,546.62A57.12,57.12 0 0 1 1695.27,561.76Z" fill="#AE88FB" fill-opacity="0.93" stroke="#000" stroke-width="2.9" stroke-linejoin="miter"/>
<path d="M1656.50,603.70L1673.54,587.95A23.20,23.20 0 0 1 1679.69,602.79Z" fill="#6A3DF9" fill-opacity="0.93" stroke="#000" stroke-width="2.9" stroke-linejoin="miter"/>
<path d="M1656.50,603.70L1665.42,604.05A8.92,8.92 0 0 1 1663.05,609.76Z" fill="#4B1FF5" fill-opacity="0.93" stroke="#000" stroke-width="2.9" stroke-linejoin="miter"/>
<path d="M1656.50,603.70L1678.31,627.29A32.13,32.13 0 0 1 1657.76,635.81Z" fill="#7D47FA" fill-opacity="0.93" stroke="#000" stroke-width="2.9" stroke-linejoin="miter"/>
<path d="M1656.50,603.70L1653.42,682.18A78.54,78.54 0 0 1 1603.19,661.37Z" fill="#E9D9FD" fill-opacity="0.93" stroke="#000" stroke-width="2.9" stroke-linejoin="miter"/>
<path d="M1656.50,603.70L1614.56,642.47A57.12,57.12 0 0 1 1599.42,605.94Z" fill="#AE88FB" fill-opacity="0.93" stroke="#000" stroke-width="2.9" stroke-linejoin="miter"/>
<path d="M1656.50,603.70L1524.51,598.51A132.09,132.09 0 0 1 1559.50,514.04Z" fill="#FA8569" fill-opacity="0.93" stroke="#000" stroke-width="2.9" stroke-linejoin="miter"/>
<path d="M1656.50,603.70L1587.44,528.99A101.74,101.74 0 0 1 1652.51,502.03Z" fill="#FDD6C7" fill-opacity="0.93" stroke="#000" stroke-width="2.9" stroke-linejoin="miter"/>
<text transform="translate(1685.33,534.11) rotate(22.5)" y="8.3" font-size="23.5" text-anchor="middle">32</text>
<text transform="translate(1748.92,380.58) rotate(22.5)" y="9.1" font-size="25.3" text-anchor="middle">Shots</text>
<text transform="translate(1694.76,587.85) rotate(67.5)" y="8.3" font-size="23.5" text-anchor="middle">13</text>
<text transform="translate(1879.62,511.28) rotate(67.5)" y="9.1" font-size="25.3" text-anchor="middle">Creation</text>
<text transform="translate(1681.57,614.08) rotate(-67.5)" y="8.3" font-size="23.5" text-anchor="middle">5</text>
<text transform="translate(1879.62,696.12) rotate(-67.5)" y="9.1" font-size="25.3" text-anchor="middle">Carrying</text>
<text transform="translate(1675.76,650.21) rotate(-22.5)" y="8.3" font-size="23.5" text-anchor="middle">18</text>
<text transform="translate(1748.92,826.82) rotate(-22.5)" y="9.1" font-size="25.3" text-anchor="middle">Crossing</text>
<text transform="translate(1619.48,693.08) rotate(22.5)" y="8.3" font-size="23.5" text-anchor="middle">44</text>
<text transform="translate(1564.08,826.82) rotate(22.5)" y="-10" font-size="25.3" text-anchor="middle">Possession</text>
<text transform="translate(1564.08,826.82) rotate(22.5)" y="28" font-size="25.3" text-anchor="middle">Involvement</text>
<text transform="translate(1586.91,632.53) rotate(67.5)" y="8.3" font-size="23.5" text-anchor="middle">32</text>
<text transform="translate(1433.38,696.12) rotate(67.5)" y="-10" font-size="25.3" text-anchor="middle">Passing</text>
<text transform="translate(1433.38,696.12) rotate(67.5)" y="28" font-size="25.3" text-anchor="middle">Accuracy</text>
<text transform="translate(1517.64,546.18) rotate(-67.5)" y="8.3" font-size="23.5" text-anchor="middle">74</text>
<text transform="translate(1433.38,511.28) rotate(-67.5)" y="-10" font-size="25.3" text-anchor="middle">Long</text>
<text transform="translate(1433.38,511.28) rotate(-67.5)" y="28" font-size="25.3" text-anchor="middle">Distribution</text>
<text transform="translate(1610.60,492.88) rotate(-22.5)" y="8.3" font-size="23.5" text-anchor="middle">57</text>
<text transform="translate(1564.08,380.58) rotate(-22.5)" y="-10" font-size="25.3" text-anchor="middle">Defensive</text>
<text transform="translate(1564.08,380.58) rotate(-22.5)" y="28" font-size="25.3" text-anchor="middle">Action</text>
<text y="965.60" font-size="37.67" fill="#000" stroke="#000" stroke-width="0.67"><tspan x="1509.02" textLength="101.25" lengthAdjust="spacingAndGlyphs">Overall</tspan> <tspan x="1618.82" textLength="75.84" lengthAdjust="spacingAndGlyphs">xPAR</tspan> <tspan x="1703.22" textLength="147.36" lengthAdjust="spacingAndGlyphs">Percentile</tspan></text>
<line x1="1324.80" y1="1278.58" x2="2035.20" y2="1278.58" stroke="#DADADA" stroke-width="1.4"/>
<line x1="1324.80" y1="1185.15" x2="2035.20" y2="1185.15" stroke="#DADADA" stroke-width="1.4"/>
<line x1="1324.80" y1="1091.72" x2="2035.20" y2="1091.72" stroke="#DADADA" stroke-width="1.4"/>
<line x1="1324.80" y1="998.30" x2="2035.20" y2="998.30" stroke="#DADADA" stroke-width="1.4"/>
<text x="1310.50" y="1380.90" font-size="24.00" text-anchor="end" fill="#3E3E3E">0</text>
<text x="1310.50" y="1287.48" font-size="24.00" text-anchor="end" fill="#3E3E3E">25</text>
<text x="1310.50" y="1194.05" font-size="24.00" text-anchor="end" fill="#3E3E3E">50</text>
<text x="1310.50" y="1100.62" font-size="24.00" text-anchor="end" fill="#3E3E3E">75</text>
<text x="1310.50" y="1007.20" font-size="24.00" text-anchor="end" fill="#3E3E3E">100</text>
<text x="1393.60" y="1402.70" font-size="24.00" text-anchor="middle" fill="#3E3E3E">18-19</text>
<text x="1508.10" y="1402.70" font-size="24.00" text-anchor="middle" fill="#3E3E3E">19-20</text>
<text x="1622.60" y="1402.70" font-size="24.00" text-anchor="middle" fill="#3E3E3E">20-21</text>
<text x="1737.10" y="1402.70" font-size="24.00" text-anchor="middle" fill="#3E3E3E">21-22</text>
<text x="1851.60" y="1402.70" font-size="24.00" text-anchor="middle" fill="#3E3E3E">22-23</text>
<text x="1966.10" y="1402.70" font-size="24.00" text-anchor="middle" fill="#3E3E3E">23-24</text>
<polyline points="1393.60,1252.42 1508.10,1342.10 1622.60,1293.52 1737.10,1334.63" fill="none" stroke="#000" stroke-width="6.4" stroke-linejoin="round" stroke-linecap="butt"/>
<circle cx="1393.60" cy="1252.42" r="7.4" fill="#000"/>
<circle cx="1508.10" cy="1342.10" r="7.4" fill="#000"/>
<circle cx="1622.60" cy="1293.52" r="7.4" fill="#000"/>
<circle cx="1737.10" cy="1334.63" r="7.4" fill="#000"/>
<circle cx="1966.10" cy="1353.32" r="7.4" fill="#000"/>
<line x1="1324.80" y1="1372.00" x2="2035.20" y2="1372.00" stroke="#000" stroke-width="3.1"/>
<text y="1488.20" font-size="37.67" fill="#0000CD" stroke="#0000CD" stroke-width="0.67"><tspan x="1392.00" textLength="115.63" lengthAdjust="spacingAndGlyphs">Offense</tspan></text>
<text y="1488.20" font-size="37.67" fill="#000" stroke="#000" stroke-width="0.67"><tspan x="1535.50" textLength="32.97" lengthAdjust="spacingAndGlyphs">vs</tspan></text>
<text y="1488.20" font-size="37.67" fill="#E3000F" stroke="#E3000F" stroke-width="0.67"><tspan x="1591.00" textLength="120.19" lengthAdjust="spacingAndGlyphs">Defense</tspan></text>
<text y="1488.20" font-size="37.67" fill="#000" stroke="#000" stroke-width="0.67"><tspan x="1734.00" textLength="32.97" lengthAdjust="spacingAndGlyphs">vs</tspan></text>
<text y="1488.20" font-size="37.67" fill="#80C5E1" stroke="#80C5E1" stroke-width="0.67"><tspan x="1788.80" textLength="133.17" lengthAdjust="spacingAndGlyphs">Finishing</tspan></text>
<line x1="1324.80" y1="1798.17" x2="2035.20" y2="1798.17" stroke="#DADADA" stroke-width="1.4"/>
<line x1="1324.80" y1="1706.35" x2="2035.20" y2="1706.35" stroke="#DADADA" stroke-width="1.4"/>
<line x1="1324.80" y1="1614.53" x2="2035.20" y2="1614.53" stroke="#DADADA" stroke-width="1.4"/>
<line x1="1324.80" y1="1522.70" x2="2035.20" y2="1522.70" stroke="#DADADA" stroke-width="1.4"/>
<text x="1310.50" y="1898.90" font-size="24.00" text-anchor="end" fill="#3E3E3E">0</text>
<text x="1310.50" y="1807.08" font-size="24.00" text-anchor="end" fill="#3E3E3E">25</text>
<text x="1310.50" y="1715.25" font-size="24.00" text-anchor="end" fill="#3E3E3E">50</text>
<text x="1310.50" y="1623.43" font-size="24.00" text-anchor="end" fill="#3E3E3E">75</text>
<text x="1310.50" y="1531.60" font-size="24.00" text-anchor="end" fill="#3E3E3E">100</text>
<text x="1393.60" y="1920.70" font-size="24.00" text-anchor="middle" fill="#3E3E3E">18-19</text>
<text x="1508.10" y="1920.70" font-size="24.00" text-anchor="middle" fill="#3E3E3E">19-20</text>
<text x="1622.60" y="1920.70" font-size="24.00" text-anchor="middle" fill="#3E3E3E">20-21</text>
<text x="1737.10" y="1920.70" font-size="24.00" text-anchor="middle" fill="#3E3E3E">21-22</text>
<text x="1851.60" y="1920.70" font-size="24.00" text-anchor="middle" fill="#3E3E3E">22-23</text>
<text x="1966.10" y="1920.70" font-size="24.00" text-anchor="middle" fill="#3E3E3E">23-24</text>
<line x1="1324.80" y1="1890.00" x2="2035.20" y2="1890.00" stroke="#000" stroke-width="3.1"/>
<polyline points="1393.60,1735.73 1508.10,1651.26 1622.60,1809.19 1737.10,1691.66" fill="none" stroke="#E60012" stroke-width="6.4" stroke-linejoin="round"/>
<circle cx="1393.60" cy="1735.73" r="7.4" fill="#E60012"/>
<circle cx="1508.10" cy="1651.26" r="7.4" fill="#E60012"/>
<circle cx="1622.60" cy="1809.19" r="7.4" fill="#E60012"/>
<circle cx="1737.10" cy="1691.66" r="7.4" fill="#E60012"/>
<circle cx="1966.10" cy="1801.85" r="7.4" fill="#E60012"/>
<polyline points="1393.60,1842.25 1508.10,1878.98 1622.60,1875.31 1737.10,1878.98" fill="none" stroke="#0000E0" stroke-width="6.4" stroke-linejoin="round"/>
<circle cx="1393.60" cy="1842.25" r="7.4" fill="#0000E0"/>
<circle cx="1508.10" cy="1878.98" r="7.4" fill="#0000E0"/>
<circle cx="1622.60" cy="1875.31" r="7.4" fill="#0000E0"/>
<circle cx="1737.10" cy="1878.98" r="7.4" fill="#0000E0"/>
<circle cx="1966.10" cy="1882.65" r="7.4" fill="#0000E0"/>
<circle cx="1737.10" cy="1886.33" r="7.4" fill="#7EC4E0"/>
<circle cx="1966.10" cy="1776.14" r="7.4" fill="#7EC4E0"/>
<text y="292.20" font-size="37.67" fill="#000" stroke="#000" stroke-width="0.67"><tspan x="2485.48" textLength="71.96" lengthAdjust="spacingAndGlyphs">Style</tspan> <tspan x="2566.00" textLength="83.12" lengthAdjust="spacingAndGlyphs">Trend</tspan></text>
<line x1="2151.80" y1="1109.25" x2="2984.00" y2="1109.25" stroke="#DADADA" stroke-width="1.4"/>
<line x1="2151.80" y1="857.90" x2="2984.00" y2="857.90" stroke="#DADADA" stroke-width="1.4"/>
<line x1="2151.80" y1="606.55" x2="2984.00" y2="606.55" stroke="#DADADA" stroke-width="1.4"/>
<line x1="2151.80" y1="355.20" x2="2984.00" y2="355.20" stroke="#DADADA" stroke-width="1.4"/>
<text x="2137.50" y="1369.50" font-size="24.00" text-anchor="end" fill="#3E3E3E">0</text>
<text x="2137.50" y="1118.15" font-size="24.00" text-anchor="end" fill="#3E3E3E">25</text>
<text x="2137.50" y="866.80" font-size="24.00" text-anchor="end" fill="#3E3E3E">50</text>
<text x="2137.50" y="615.45" font-size="24.00" text-anchor="end" fill="#3E3E3E">75</text>
<text x="2137.50" y="364.10" font-size="24.00" text-anchor="end" fill="#3E3E3E">100</text>
<text x="2176.00" y="1397.20" font-size="24.00" text-anchor="middle" fill="#3E3E3E">21-22</text>
<text x="2421.00" y="1397.20" font-size="24.00" text-anchor="middle" fill="#3E3E3E">22-23</text>
<text x="2666.00" y="1397.20" font-size="24.00" text-anchor="middle" fill="#3E3E3E">23-24</text>
<line x1="2151.80" y1="1360.60" x2="2984.00" y2="1360.60" stroke="#000" stroke-width="2.7"/>
<g opacity="0.10"><line x1="2176.0" y1="686.98" x2="2666.0" y2="616.60" stroke="#66A61E" stroke-width="6.2" stroke-linecap="round"/><circle cx="2176.0" cy="686.98" r="7.3" fill="#66A61E"/><circle cx="2666.0" cy="616.60" r="7.3" fill="#66A61E"/></g>
<g opacity="0.10"><line x1="2176.0" y1="867.95" x2="2666.0" y2="918.22" stroke="#A6761D" stroke-width="6.2" stroke-linecap="round"/><circle cx="2176.0" cy="867.95" r="7.3" fill="#A6761D"/><circle cx="2666.0" cy="918.22" r="7.3" fill="#A6761D"/></g>
<g opacity="0.10"><line x1="2176.0" y1="998.66" x2="2666.0" y2="1038.87" stroke="#666666" stroke-width="6.2" stroke-linecap="round"/><circle cx="2176.0" cy="998.66" r="7.3" fill="#666666"/><circle cx="2666.0" cy="1038.87" r="7.3" fill="#666666"/></g>
<g opacity="0.10"><line x1="2176.0" y1="1149.47" x2="2666.0" y2="1229.90" stroke="#1B9E77" stroke-width="6.2" stroke-linecap="round"/><circle cx="2176.0" cy="1149.47" r="7.3" fill="#1B9E77"/><circle cx="2666.0" cy="1229.90" r="7.3" fill="#1B9E77"/></g>
<g opacity="0.10"><line x1="2176.0" y1="1159.52" x2="2666.0" y2="1179.63" stroke="#D95F02" stroke-width="6.2" stroke-linecap="round"/><circle cx="2176.0" cy="1159.52" r="7.3" fill="#D95F02"/><circle cx="2666.0" cy="1179.63" r="7.3" fill="#D95F02"/></g>
<g opacity="0.10"><line x1="2176.0" y1="1250.01" x2="2666.0" y2="1310.33" stroke="#777777" stroke-width="6.2" stroke-linecap="round"/><circle cx="2176.0" cy="1250.01" r="7.3" fill="#777777"/><circle cx="2666.0" cy="1310.33" r="7.3" fill="#777777"/></g>
<line x1="2176.00" y1="918.22" x2="2666.00" y2="787.52" stroke="#6457A6" stroke-width="6.2" stroke-linecap="round"/>
<circle cx="2176.00" cy="918.22" r="7.4" fill="#6457A6"/>
<circle cx="2666.00" cy="787.52" r="7.4" fill="#6457A6"/>
<line x1="2176.00" y1="707.09" x2="2666.00" y2="1038.87" stroke="#DC9A08" stroke-width="6.2" stroke-linecap="round"/>
<circle cx="2176.00" cy="707.09" r="7.4" fill="#DC9A08"/>
<circle cx="2666.00" cy="1038.87" r="7.4" fill="#DC9A08"/>
<line x1="2666.00" y1="617.20" x2="2776.50" y2="617.20" stroke="#639A27" stroke-width="2.4"/>
<line x1="2673.00" y1="787.90" x2="2776.50" y2="787.90" stroke="#675CA7" stroke-width="2.4"/>
<line x1="2666.00" y1="918.20" x2="2698.80" y2="918.20" stroke="#94691F" stroke-width="2.4"/>
<line x1="2666.00" y1="1038.90" x2="2766.20" y2="1010.50" stroke="#DDA61E" stroke-width="2.4"/>
<line x1="2666.00" y1="1038.90" x2="2870.60" y2="1066.80" stroke="#4A4A4A" stroke-width="2.4"/>
<line x1="2666.00" y1="1179.80" x2="2854.10" y2="1176.30" stroke="#C4521C" stroke-width="2.4"/>
<line x1="2666.00" y1="1230.10" x2="2856.00" y2="1233.50" stroke="#23906F" stroke-width="2.4"/>
<line x1="2666.00" y1="1310.50" x2="2856.00" y2="1310.50" stroke="#6B6B6B" stroke-width="2.4"/>
<rect x="2776.50" y="598.10" width="198.80" height="37.30" fill="#fff" stroke="#639A27" stroke-width="1.3" rx="5.5"/>
<text x="2875.90" y="625.45" font-size="23.75" text-anchor="middle" fill="#639A27">Long Distribution</text>
<rect x="2776.50" y="769.20" width="198.80" height="37.40" fill="#fff" stroke="#675CA7" stroke-width="1.3" rx="5.5"/>
<text x="2875.90" y="796.60" font-size="23.75" text-anchor="middle" fill="#675CA7">Defensive Action</text>
<rect x="2698.80" y="899.70" width="276.30" height="37.30" fill="#fff" stroke="#94691F" stroke-width="1.3" rx="5.5"/>
<text x="2836.95" y="927.05" font-size="23.75" text-anchor="middle" fill="#94691F">Possession Involvement</text>
<rect x="2766.20" y="991.90" width="208.60" height="36.70" fill="#fff" stroke="#DDA61E" stroke-width="1.3" rx="5.5"/>
<text x="2870.50" y="1018.95" font-size="23.75" text-anchor="middle" fill="#DDA61E">Passing Accuracy</text>
<rect x="2870.60" y="1048.60" width="81.30" height="37.20" fill="#fff" stroke="#4A4A4A" stroke-width="1.3" rx="5.5"/>
<text x="2911.25" y="1075.90" font-size="23.75" text-anchor="middle" fill="#4A4A4A">Shots</text>
<rect x="2854.10" y="1158.30" width="114.30" height="36.90" fill="#fff" stroke="#C4521C" stroke-width="1.3" rx="5.5"/>
<text x="2911.25" y="1185.45" font-size="23.75" text-anchor="middle" fill="#C4521C">Crossing</text>
<rect x="2856.00" y="1215.20" width="110.50" height="37.00" fill="#fff" stroke="#23906F" stroke-width="1.3" rx="5.5"/>
<text x="2911.25" y="1242.40" font-size="23.75" text-anchor="middle" fill="#23906F">Creation</text>
<rect x="2856.00" y="1292.20" width="110.50" height="37.20" fill="#fff" stroke="#6B6B6B" stroke-width="1.3" rx="5.5"/>
<text x="2911.25" y="1319.50" font-size="23.75" text-anchor="middle" fill="#6B6B6B">Carrying</text>
<text y="1483.40" font-size="37.67" fill="#000" stroke="#000" stroke-width="0.67"><tspan x="2525.26" textLength="102.34" lengthAdjust="spacingAndGlyphs">Similar</tspan> <tspan x="2636.16" textLength="107.98" lengthAdjust="spacingAndGlyphs">Players</tspan></text>
<rect x="2317.60" y="1528.50" width="549.13" height="41.20" fill="#FB948E" stroke="#000" stroke-width="2.8"/>
<text y="1544.30" font-size="26.55" fill="#000" stroke="#000" stroke-width="0.50"><tspan x="2096.21" textLength="58.34" lengthAdjust="spacingAndGlyphs">Hugo</tspan> <tspan x="2160.93" textLength="110.67" lengthAdjust="spacingAndGlyphs">Guillamon</tspan></text>
<text y="1574.10" font-size="26.55" fill="#000" stroke="#000" stroke-width="0.50"><tspan x="2160.05" textLength="111.55" lengthAdjust="spacingAndGlyphs">(Valencia)</tspan></text>
<rect x="2828.73" y="1532.20" width="76.00" height="33.80" fill="#fff" stroke="#000" stroke-width="1.7" rx="5.5"/>
<text x="2866.23" y="1556.30" font-size="19.40" text-anchor="middle" fill="#000">95.1%</text>
<rect x="2317.60" y="1612.95" width="545.08" height="41.20" fill="#FB948E" stroke="#000" stroke-width="2.8"/>
<text y="1628.75" font-size="26.55" fill="#000" stroke="#000" stroke-width="0.50"><tspan x="2098.64" textLength="59.43" lengthAdjust="spacingAndGlyphs">Omar</tspan> <tspan x="2164.45" textLength="107.15" lengthAdjust="spacingAndGlyphs">Mascarell</tspan></text>
<text y="1658.55" font-size="26.55" fill="#000" stroke="#000" stroke-width="0.50"><tspan x="2158.61" textLength="112.99" lengthAdjust="spacingAndGlyphs">(Mallorca)</tspan></text>
<rect x="2824.68" y="1616.65" width="76.00" height="33.80" fill="#fff" stroke="#000" stroke-width="1.7" rx="5.5"/>
<text x="2862.18" y="1640.75" font-size="19.40" text-anchor="middle" fill="#000">94.4%</text>
<rect x="2317.60" y="1697.40" width="544.50" height="41.20" fill="#FB948E" stroke="#000" stroke-width="2.8"/>
<text y="1713.20" font-size="26.55" fill="#000" stroke="#000" stroke-width="0.50"><tspan x="2150.67" textLength="40.71" lengthAdjust="spacingAndGlyphs">Iker</tspan> <tspan x="2197.76" textLength="73.84" lengthAdjust="spacingAndGlyphs">Munoz</tspan></text>
<text y="1743.00" font-size="26.55" fill="#000" stroke="#000" stroke-width="0.50"><tspan x="2158.40" textLength="113.20" lengthAdjust="spacingAndGlyphs">(Osasuna)</tspan></text>
<rect x="2824.30" y="1701.10" width="75.60" height="33.80" fill="#fff" stroke="#000" stroke-width="1.7" rx="5.5"/>
<text x="2861.60" y="1725.20" font-size="19.40" text-anchor="middle" fill="#000">94.3%</text>
<rect x="2317.60" y="1781.85" width="542.76" height="41.20" fill="#FB948E" stroke="#000" stroke-width="2.8"/>
<text y="1797.65" font-size="26.55" fill="#000" stroke="#000" stroke-width="0.50"><tspan x="2133.88" textLength="63.62" lengthAdjust="spacingAndGlyphs">Digbo</tspan> <tspan x="2203.88" textLength="67.72" lengthAdjust="spacingAndGlyphs">Maiga</tspan></text>
<text y="1827.45" font-size="26.55" fill="#000" stroke="#000" stroke-width="0.50"><tspan x="2199.55" textLength="72.05" lengthAdjust="spacingAndGlyphs">(Metz)</tspan></text>
<rect x="2830.51" y="1785.55" width="59.70" height="33.80" fill="#fff" stroke="#000" stroke-width="1.7" rx="5.5"/>
<text x="2859.86" y="1809.65" font-size="19.40" text-anchor="middle" fill="#000">94%</text>
<rect x="2317.60" y="1866.30" width="535.23" height="41.20" fill="#FB948E" stroke="#000" stroke-width="2.8"/>
<text y="1882.10" font-size="26.55" fill="#000" stroke="#000" stroke-width="0.50"><tspan x="2157.12" textLength="66.70" lengthAdjust="spacingAndGlyphs">Alexis</tspan> <tspan x="2230.20" textLength="41.40" lengthAdjust="spacingAndGlyphs">Blin</tspan></text>
<text y="1911.90" font-size="26.55" fill="#000" stroke="#000" stroke-width="0.50"><tspan x="2189.04" textLength="82.56" lengthAdjust="spacingAndGlyphs">(Lecce)</tspan></text>
<rect x="2814.68" y="1870.00" width="76.30" height="33.80" fill="#fff" stroke="#000" stroke-width="1.7" rx="5.5"/>
<text x="2852.33" y="1894.10" font-size="19.40" text-anchor="middle" fill="#000">92.7%</text>
<text y="1990.00" font-size="26.84" fill="#000" stroke="#000" stroke-width="0.51" font-style="italic"><tspan x="60.50" textLength="80.90" lengthAdjust="spacingAndGlyphs">Source:</tspan> <tspan x="147.79" textLength="110.11" lengthAdjust="spacingAndGlyphs">Understat,</tspan> <tspan x="264.29" textLength="50.96" lengthAdjust="spacingAndGlyphs">Opta</tspan> <tspan x="321.65" textLength="30.98" lengthAdjust="spacingAndGlyphs">via</tspan> <tspan x="359.02" textLength="57.42" lengthAdjust="spacingAndGlyphs">FBref</tspan></text>
<text y="2029.94" font-size="26.84" fill="#000" stroke="#000" stroke-width="0.51" font-style="italic"><tspan x="60.50" textLength="70.35" lengthAdjust="spacingAndGlyphs">Notes:</tspan> <tspan x="137.24" textLength="83.70" lengthAdjust="spacingAndGlyphs">Created</tspan> <tspan x="227.33" textLength="24.64" lengthAdjust="spacingAndGlyphs">by</tspan> <tspan x="258.37" textLength="182.97" lengthAdjust="spacingAndGlyphs">@macro_football</tspan> <tspan x="447.73" textLength="26.88" lengthAdjust="spacingAndGlyphs">on</tspan> <tspan x="481.00" textLength="128.40" lengthAdjust="spacingAndGlyphs">2024-06-01.</tspan> <tspan x="615.79" textLength="28.24" lengthAdjust="spacingAndGlyphs">All</tspan> <tspan x="650.42" textLength="118.62" lengthAdjust="spacingAndGlyphs">percentiles</tspan> <tspan x="775.43" textLength="39.79" lengthAdjust="spacingAndGlyphs">and</tspan> <tspan x="821.61" textLength="80.95" lengthAdjust="spacingAndGlyphs">metrics</tspan> <tspan x="908.96" textLength="33.88" lengthAdjust="spacingAndGlyphs">are</tspan> <tspan x="949.23" textLength="78.72" lengthAdjust="spacingAndGlyphs">relative</tspan> <tspan x="1034.34" textLength="21.47" lengthAdjust="spacingAndGlyphs">to</tspan> <tspan x="1062.21" textLength="25.58" lengthAdjust="spacingAndGlyphs">all</tspan> <tspan x="1094.18" textLength="77.23" lengthAdjust="spacingAndGlyphs">players</tspan> <tspan x="1177.80" textLength="19.46" lengthAdjust="spacingAndGlyphs">in</tspan> <tspan x="1203.65" textLength="34.00" lengthAdjust="spacingAndGlyphs">the</tspan> <tspan x="1244.05" textLength="34.92" lengthAdjust="spacingAndGlyphs">top</tspan> <tspan x="1285.36" textLength="13.46" lengthAdjust="spacingAndGlyphs">5</tspan> <tspan x="1305.21" textLength="100.67" lengthAdjust="spacingAndGlyphs">European</tspan> <tspan x="1412.28" textLength="91.11" lengthAdjust="spacingAndGlyphs">leagues.</tspan> <tspan x="1509.78" textLength="73.97" lengthAdjust="spacingAndGlyphs">Overall</tspan> <tspan x="1590.14" textLength="18.69" lengthAdjust="spacingAndGlyphs">is</tspan> <tspan x="1615.22" textLength="34.00" lengthAdjust="spacingAndGlyphs">the</tspan> <tspan x="1655.61" textLength="81.12" lengthAdjust="spacingAndGlyphs">player's</tspan> <tspan x="1743.12" textLength="97.92" lengthAdjust="spacingAndGlyphs">expected</tspan> <tspan x="1847.44" textLength="67.08" lengthAdjust="spacingAndGlyphs">points</tspan> <tspan x="1920.92" textLength="64.24" lengthAdjust="spacingAndGlyphs">above</tspan> <tspan x="1991.55" textLength="133.52" lengthAdjust="spacingAndGlyphs">replacement</tspan> <tspan x="2131.46" textLength="72.61" lengthAdjust="spacingAndGlyphs">(xPAR)</tspan> <tspan x="2210.47" textLength="113.37" lengthAdjust="spacingAndGlyphs">percentile.</tspan> <tspan x="2330.23" textLength="84.49" lengthAdjust="spacingAndGlyphs">Offense</tspan> <tspan x="2421.12" textLength="39.79" lengthAdjust="spacingAndGlyphs">and</tspan> <tspan x="2467.30" textLength="87.81" lengthAdjust="spacingAndGlyphs">Defense</tspan> <tspan x="2561.51" textLength="74.52" lengthAdjust="spacingAndGlyphs">Impact</tspan> <tspan x="2642.42" textLength="118.62" lengthAdjust="spacingAndGlyphs">percentiles</tspan> <tspan x="2767.43" textLength="39.79" lengthAdjust="spacingAndGlyphs">and</tspan> <tspan x="2813.61" textLength="94.67" lengthAdjust="spacingAndGlyphs">Z-Scores</tspan> <tspan x="2914.68" textLength="33.88" lengthAdjust="spacingAndGlyphs">are</tspan></text>
<text y="2069.88" font-size="26.84" fill="#000" stroke="#000" stroke-width="0.51" font-style="italic"><tspan x="60.50" textLength="34.00" lengthAdjust="spacingAndGlyphs">the</tspan> <tspan x="100.89" textLength="81.12" lengthAdjust="spacingAndGlyphs">player's</tspan> <tspan x="188.40" textLength="86.06" lengthAdjust="spacingAndGlyphs">isolated</tspan> <tspan x="280.85" textLength="73.95" lengthAdjust="spacingAndGlyphs">impact</tspan> <tspan x="361.20" textLength="26.88" lengthAdjust="spacingAndGlyphs">on</tspan> <tspan x="394.48" textLength="41.18" lengthAdjust="spacingAndGlyphs">xGF</tspan> <tspan x="442.05" textLength="39.79" lengthAdjust="spacingAndGlyphs">and</tspan> <tspan x="488.23" textLength="43.80" lengthAdjust="spacingAndGlyphs">xGA</tspan> <tspan x="538.42" textLength="30.54" lengthAdjust="spacingAndGlyphs">(or</tspan> <tspan x="575.36" textLength="29.21" lengthAdjust="spacingAndGlyphs">GF</tspan> <tspan x="610.96" textLength="39.79" lengthAdjust="spacingAndGlyphs">and</tspan> <tspan x="657.14" textLength="40.52" lengthAdjust="spacingAndGlyphs">GA)</tspan> <tspan x="704.06" textLength="34.52" lengthAdjust="spacingAndGlyphs">per</tspan> <tspan x="744.97" textLength="32.28" lengthAdjust="spacingAndGlyphs">90,</tspan> <tspan x="783.65" textLength="114.66" lengthAdjust="spacingAndGlyphs">controlling</tspan> <tspan x="904.71" textLength="30.61" lengthAdjust="spacingAndGlyphs">for</tspan> <tspan x="941.71" textLength="126.66" lengthAdjust="spacingAndGlyphs">teammates,</tspan> <tspan x="1074.76" textLength="114.14" lengthAdjust="spacingAndGlyphs">opposition</tspan> <tspan x="1195.30" textLength="82.60" lengthAdjust="spacingAndGlyphs">players,</tspan> <tspan x="1284.29" textLength="112.17" lengthAdjust="spacingAndGlyphs">managers,</tspan> <tspan x="1402.85" textLength="64.89" lengthAdjust="spacingAndGlyphs">score,</tspan> <tspan x="1474.13" textLength="99.56" lengthAdjust="spacingAndGlyphs">situation,</tspan> <tspan x="1580.08" textLength="60.37" lengthAdjust="spacingAndGlyphs">etc...,</tspan> <tspan x="1646.85" textLength="70.65" lengthAdjust="spacingAndGlyphs">scaled</tspan> <tspan x="1723.89" textLength="78.72" lengthAdjust="spacingAndGlyphs">relative</tspan> <tspan x="1809.00" textLength="21.47" lengthAdjust="spacingAndGlyphs">to</tspan> <tspan x="1836.86" textLength="100.67" lengthAdjust="spacingAndGlyphs">European</tspan> <tspan x="1943.93" textLength="39.95" lengthAdjust="spacingAndGlyphs">Top</tspan> <tspan x="1990.28" textLength="13.46" lengthAdjust="spacingAndGlyphs">5</tspan> <tspan x="2010.13" textLength="78.19" lengthAdjust="spacingAndGlyphs">League</tspan> <tspan x="2094.72" textLength="91.34" lengthAdjust="spacingAndGlyphs">average.</tspan> <tspan x="2192.45" textLength="97.31" lengthAdjust="spacingAndGlyphs">Finishing</tspan> <tspan x="2296.15" textLength="30.54" lengthAdjust="spacingAndGlyphs">(or</tspan> <tspan x="2333.09" textLength="80.24" lengthAdjust="spacingAndGlyphs">Saving)</tspan> <tspan x="2419.72" textLength="74.52" lengthAdjust="spacingAndGlyphs">Impact</tspan> <tspan x="2500.63" textLength="118.62" lengthAdjust="spacingAndGlyphs">percentiles</tspan> <tspan x="2625.64" textLength="39.79" lengthAdjust="spacingAndGlyphs">and</tspan> <tspan x="2671.82" textLength="94.67" lengthAdjust="spacingAndGlyphs">Z-Scores</tspan> <tspan x="2772.89" textLength="33.88" lengthAdjust="spacingAndGlyphs">are</tspan> <tspan x="2813.16" textLength="34.00" lengthAdjust="spacingAndGlyphs">the</tspan> <tspan x="2853.55" textLength="81.12" lengthAdjust="spacingAndGlyphs">player's</tspan></text>
<text y="2109.82" font-size="26.84" fill="#000" stroke="#000" stroke-width="0.51" font-style="italic"><tspan x="60.50" textLength="73.95" lengthAdjust="spacingAndGlyphs">impact</tspan> <tspan x="140.85" textLength="26.88" lengthAdjust="spacingAndGlyphs">on</tspan> <tspan x="174.12" textLength="47.34" lengthAdjust="spacingAndGlyphs">shot</tspan> <tspan x="227.85" textLength="33.44" lengthAdjust="spacingAndGlyphs">xG,</tspan> <tspan x="267.68" textLength="78.72" lengthAdjust="spacingAndGlyphs">relative</tspan> <tspan x="352.79" textLength="21.47" lengthAdjust="spacingAndGlyphs">to</tspan> <tspan x="380.66" textLength="100.67" lengthAdjust="spacingAndGlyphs">European</tspan> <tspan x="487.72" textLength="39.95" lengthAdjust="spacingAndGlyphs">Top</tspan> <tspan x="534.07" textLength="13.46" lengthAdjust="spacingAndGlyphs">5</tspan> <tspan x="553.92" textLength="78.19" lengthAdjust="spacingAndGlyphs">League</tspan> <tspan x="638.51" textLength="91.34" lengthAdjust="spacingAndGlyphs">average.</tspan> <tspan x="736.24" textLength="49.04" lengthAdjust="spacingAndGlyphs">Shot</tspan> <tspan x="791.68" textLength="30.54" lengthAdjust="spacingAndGlyphs">(or</tspan> <tspan x="828.61" textLength="36.76" lengthAdjust="spacingAndGlyphs">xG)</tspan> <tspan x="871.76" textLength="61.17" lengthAdjust="spacingAndGlyphs">Share</tspan> <tspan x="939.32" textLength="18.69" lengthAdjust="spacingAndGlyphs">is</tspan> <tspan x="964.41" textLength="34.00" lengthAdjust="spacingAndGlyphs">the</tspan> <tspan x="1004.80" textLength="59.47" lengthAdjust="spacingAndGlyphs">share</tspan> <tspan x="1070.66" textLength="22.31" lengthAdjust="spacingAndGlyphs">of</tspan> <tspan x="1099.36" textLength="34.00" lengthAdjust="spacingAndGlyphs">the</tspan> <tspan x="1139.76" textLength="69.10" lengthAdjust="spacingAndGlyphs">team's</tspan> <tspan x="1215.25" textLength="59.77" lengthAdjust="spacingAndGlyphs">shots</tspan> <tspan x="1281.41" textLength="30.54" lengthAdjust="spacingAndGlyphs">(or</tspan> <tspan x="1318.35" textLength="36.76" lengthAdjust="spacingAndGlyphs">xG)</tspan> <tspan x="1361.50" textLength="42.36" lengthAdjust="spacingAndGlyphs">that</tspan> <tspan x="1410.25" textLength="34.00" lengthAdjust="spacingAndGlyphs">the</tspan> <tspan x="1450.64" textLength="64.80" lengthAdjust="spacingAndGlyphs">player</tspan> <tspan x="1521.84" textLength="58.34" lengthAdjust="spacingAndGlyphs">takes</tspan> <tspan x="1586.57" textLength="56.84" lengthAdjust="spacingAndGlyphs">when</tspan> <tspan x="1649.81" textLength="26.88" lengthAdjust="spacingAndGlyphs">on</tspan> <tspan x="1683.08" textLength="34.00" lengthAdjust="spacingAndGlyphs">the</tspan> <tspan x="1723.48" textLength="53.11" lengthAdjust="spacingAndGlyphs">field.</tspan> <tspan x="1782.98" textLength="67.03" lengthAdjust="spacingAndGlyphs">Usage</tspan> <tspan x="1856.40" textLength="18.69" lengthAdjust="spacingAndGlyphs">is</tspan> <tspan x="1881.48" textLength="34.00" lengthAdjust="spacingAndGlyphs">the</tspan> <tspan x="1921.88" textLength="59.47" lengthAdjust="spacingAndGlyphs">share</tspan> <tspan x="1987.74" textLength="22.31" lengthAdjust="spacingAndGlyphs">of</tspan> <tspan x="2016.44" textLength="34.00" lengthAdjust="spacingAndGlyphs">the</tspan> <tspan x="2056.83" textLength="69.10" lengthAdjust="spacingAndGlyphs">team's</tspan> <tspan x="2132.33" textLength="28.07" lengthAdjust="spacingAndGlyphs">xG</tspan> <tspan x="2166.79" textLength="42.36" lengthAdjust="spacingAndGlyphs">that</tspan> <tspan x="2215.54" textLength="34.00" lengthAdjust="spacingAndGlyphs">the</tspan> <tspan x="2255.94" textLength="64.80" lengthAdjust="spacingAndGlyphs">player</tspan> <tspan x="2327.13" textLength="18.69" lengthAdjust="spacingAndGlyphs">is</tspan> <tspan x="2352.21" textLength="124.73" lengthAdjust="spacingAndGlyphs">responsible</tspan> <tspan x="2483.34" textLength="30.61" lengthAdjust="spacingAndGlyphs">for</tspan> <tspan x="2520.35" textLength="56.84" lengthAdjust="spacingAndGlyphs">when</tspan> <tspan x="2583.59" textLength="26.88" lengthAdjust="spacingAndGlyphs">on</tspan> <tspan x="2616.86" textLength="34.00" lengthAdjust="spacingAndGlyphs">the</tspan> <tspan x="2657.25" textLength="45.92" lengthAdjust="spacingAndGlyphs">field</tspan> <tspan x="2709.57" textLength="30.98" lengthAdjust="spacingAndGlyphs">via</tspan> <tspan x="2746.95" textLength="61.33" lengthAdjust="spacingAndGlyphs">either</tspan> <tspan x="2814.67" textLength="59.77" lengthAdjust="spacingAndGlyphs">shots</tspan> <tspan x="2880.83" textLength="21.98" lengthAdjust="spacingAndGlyphs">or</tspan> <tspan x="2909.21" textLength="47.34" lengthAdjust="spacingAndGlyphs">shot</tspan></text>
<text y="2149.76" font-size="26.84" fill="#000" stroke="#000" stroke-width="0.51" font-style="italic"><tspan x="60.50" textLength="84.30" lengthAdjust="spacingAndGlyphs">assists.</tspan> <tspan x="151.19" textLength="103.74" lengthAdjust="spacingAndGlyphs">Individual</tspan> <tspan x="261.33" textLength="159.41" lengthAdjust="spacingAndGlyphs">characteristics</tspan> <tspan x="427.13" textLength="41.97" lengthAdjust="spacingAndGlyphs">(i.e.</tspan> <tspan x="475.50" textLength="94.14" lengthAdjust="spacingAndGlyphs">dribbling</tspan> <tspan x="576.03" textLength="39.79" lengthAdjust="spacingAndGlyphs">and</tspan> <tspan x="622.21" textLength="96.13" lengthAdjust="spacingAndGlyphs">creating)</tspan> <tspan x="724.73" textLength="33.88" lengthAdjust="spacingAndGlyphs">are</tspan> <tspan x="765.00" textLength="65.24" lengthAdjust="spacingAndGlyphs">based</tspan> <tspan x="836.64" textLength="26.88" lengthAdjust="spacingAndGlyphs">on</tspan> <tspan x="869.91" textLength="13.06" lengthAdjust="spacingAndGlyphs">a</tspan> <tspan x="889.37" textLength="156.84" lengthAdjust="spacingAndGlyphs">dimensionality</tspan> <tspan x="1052.60" textLength="101.31" lengthAdjust="spacingAndGlyphs">reduction</tspan> <tspan x="1160.31" textLength="22.31" lengthAdjust="spacingAndGlyphs">of</tspan> <tspan x="1189.01" textLength="51.59" lengthAdjust="spacingAndGlyphs">each</tspan> <tspan x="1247.00" textLength="81.12" lengthAdjust="spacingAndGlyphs">player's</tspan> <tspan x="1334.51" textLength="167.52" lengthAdjust="spacingAndGlyphs">micro-statistics</tspan> <tspan x="1508.42" textLength="41.97" lengthAdjust="spacingAndGlyphs">(i.e.</tspan> <tspan x="1556.78" textLength="56.32" lengthAdjust="spacingAndGlyphs">short</tspan> <tspan x="1619.50" textLength="51.37" lengthAdjust="spacingAndGlyphs">pass</tspan> <tspan x="1677.27" textLength="96.44" lengthAdjust="spacingAndGlyphs">attempts</tspan> <tspan x="1780.10" textLength="39.79" lengthAdjust="spacingAndGlyphs">and</tspan> <tspan x="1826.29" textLength="156.66" lengthAdjust="spacingAndGlyphs">interceptions).</tspan> <tspan x="1989.34" textLength="66.46" lengthAdjust="spacingAndGlyphs">Player</tspan> <tspan x="2062.20" textLength="58.07" lengthAdjust="spacingAndGlyphs">types</tspan> <tspan x="2126.66" textLength="41.97" lengthAdjust="spacingAndGlyphs">(i.e.</tspan> <tspan x="2175.03" textLength="122.59" lengthAdjust="spacingAndGlyphs">ball-playing</tspan> <tspan x="2304.01" textLength="103.87" lengthAdjust="spacingAndGlyphs">defender)</tspan> <tspan x="2414.27" textLength="33.88" lengthAdjust="spacingAndGlyphs">are</tspan> <tspan x="2454.54" textLength="65.24" lengthAdjust="spacingAndGlyphs">based</tspan> <tspan x="2526.18" textLength="26.88" lengthAdjust="spacingAndGlyphs">on</tspan> <tspan x="2559.45" textLength="13.06" lengthAdjust="spacingAndGlyphs">a</tspan> <tspan x="2578.91" textLength="106.50" lengthAdjust="spacingAndGlyphs">clustering</tspan> <tspan x="2691.80" textLength="88.05" lengthAdjust="spacingAndGlyphs">analysis</tspan> <tspan x="2786.24" textLength="22.31" lengthAdjust="spacingAndGlyphs">of</tspan> <tspan x="2814.94" textLength="56.75" lengthAdjust="spacingAndGlyphs">every</tspan> <tspan x="2878.09" textLength="81.12" lengthAdjust="spacingAndGlyphs">player's</tspan></text>
<text y="2189.70" font-size="26.84" fill="#000" stroke="#000" stroke-width="0.51" font-style="italic"><tspan x="60.50" textLength="103.18" lengthAdjust="spacingAndGlyphs">individual</tspan> <tspan x="170.07" textLength="166.60" lengthAdjust="spacingAndGlyphs">characteristics.</tspan> <tspan x="343.06" textLength="66.46" lengthAdjust="spacingAndGlyphs">Player</tspan> <tspan x="415.92" textLength="98.76" lengthAdjust="spacingAndGlyphs">similarity</tspan> <tspan x="521.08" textLength="71.95" lengthAdjust="spacingAndGlyphs">scores</tspan> <tspan x="599.42" textLength="33.88" lengthAdjust="spacingAndGlyphs">are</tspan> <tspan x="639.69" textLength="65.24" lengthAdjust="spacingAndGlyphs">based</tspan> <tspan x="711.33" textLength="26.88" lengthAdjust="spacingAndGlyphs">on</tspan> <tspan x="744.60" textLength="34.00" lengthAdjust="spacingAndGlyphs">the</tspan> <tspan x="784.99" textLength="58.79" lengthAdjust="spacingAndGlyphs">same</tspan> <tspan x="850.18" textLength="106.50" lengthAdjust="spacingAndGlyphs">clustering</tspan> <tspan x="963.08" textLength="95.24" lengthAdjust="spacingAndGlyphs">analysis.</tspan></text>
</svg>
</body></html>
